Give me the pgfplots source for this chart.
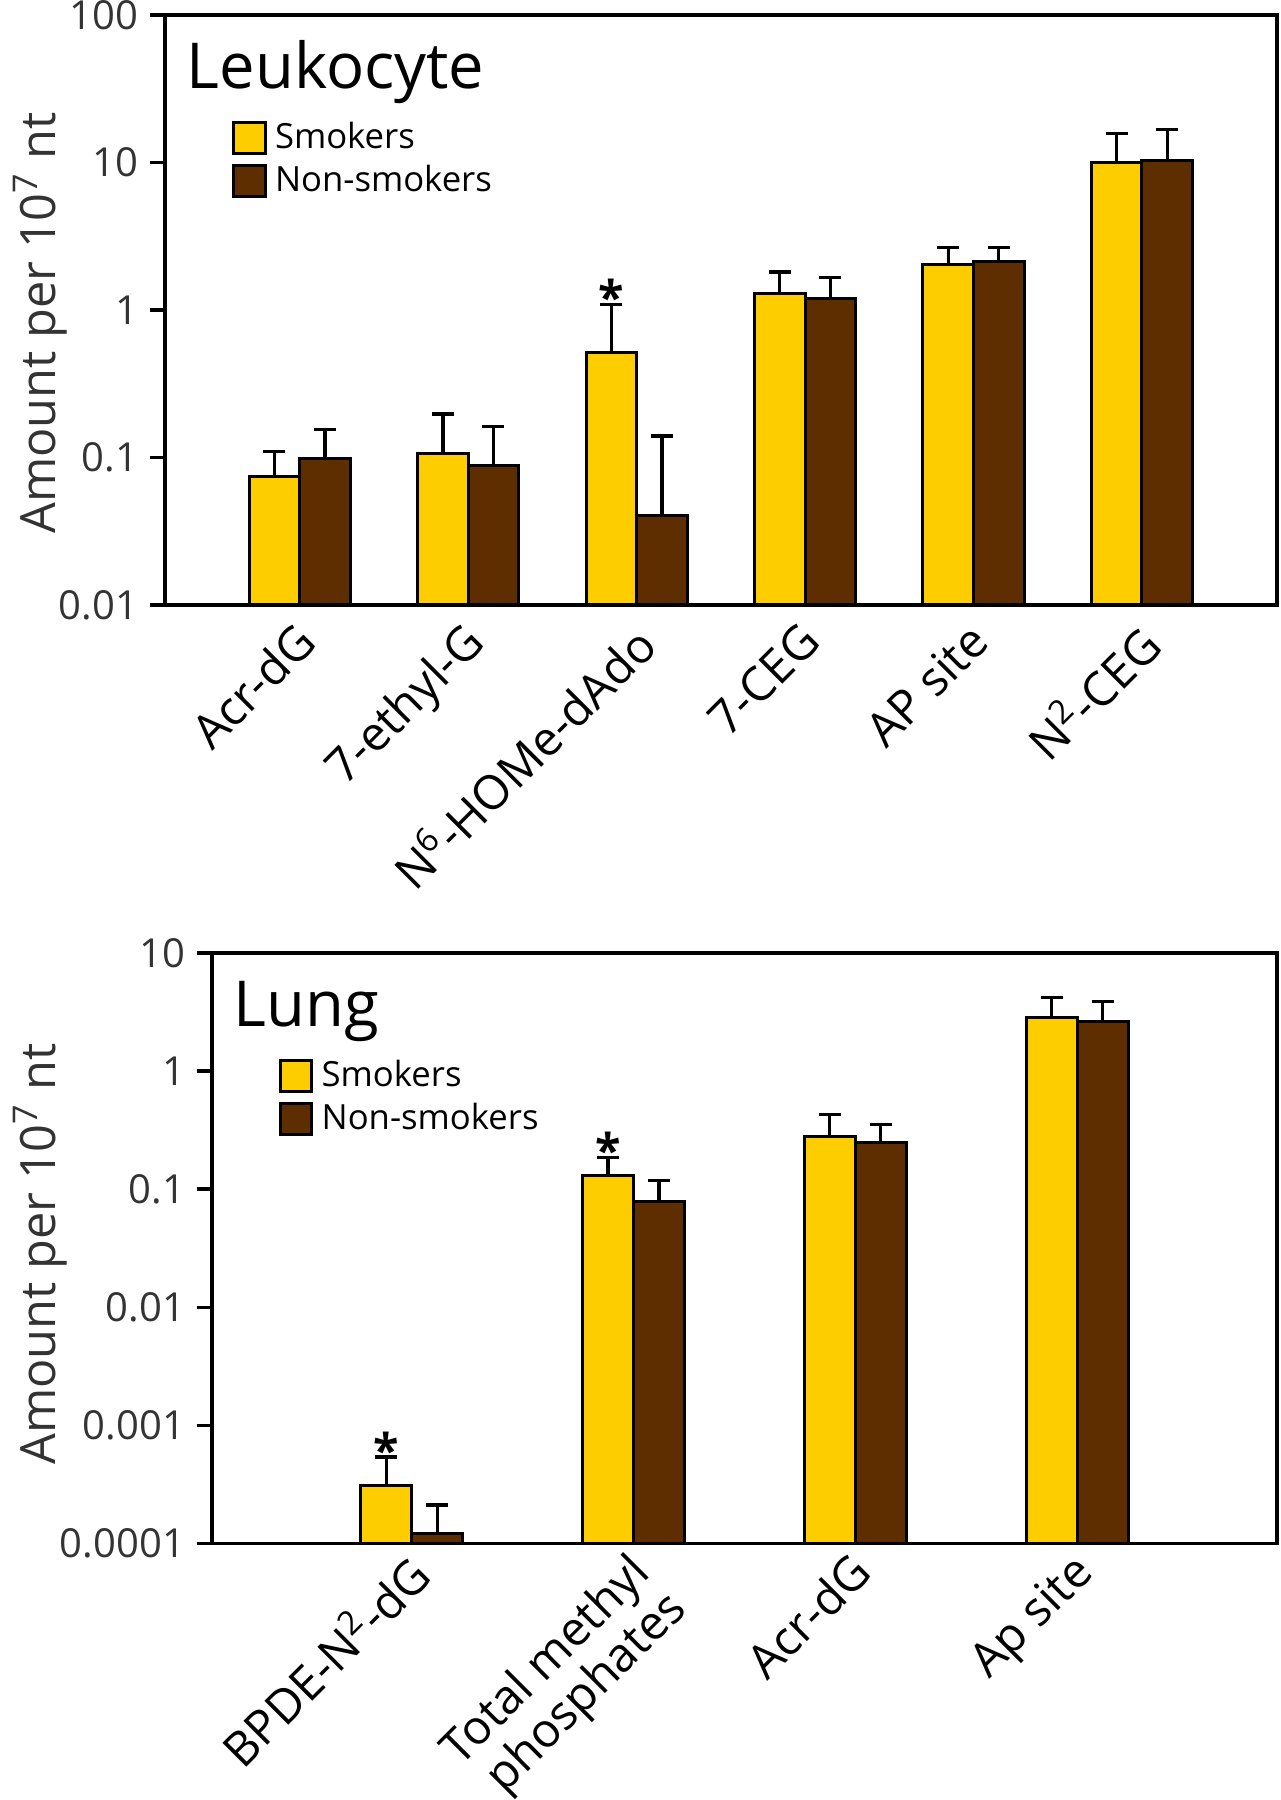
\documentclass[border=0pt]{standalone}
\usepackage{fontspec}
\setmainfont{Open Sans}
\usepackage{pgfplots}
\pgfplotsset{compat=1.18}
\usepackage{pgfplotstable}
\definecolor{smk}{HTML}{FDCD00}
\definecolor{nsm}{HTML}{5E2D00}

\pgfplotstableread{
x s se n ne
0 0.0738 0.0362 0.0985 0.0565
1 0.1066 0.0904 0.0887 0.0743
2 0.511 0.576 0.0403 0.0997
3 1.30 0.51 1.20 0.46
4 2.05 0.61 2.13 0.53
5 9.95 5.75 10.3 6.4
}\leuk

\pgfplotstableread{
x s se n ne
0 3.06e-4 2.31e-4 1.2e-4 0.91e-4
1 0.1294 0.0566 0.0790 0.039
2 0.281 0.145 0.250 0.102
3 2.86 1.34 2.62 1.26
}\lung

\begin{document}
\begin{tikzpicture}
\path[use as bounding box] (0,0) rectangle (384.3pt,540pt);

\begin{axis}[
  scale only axis, ymode=log, log origin=infty, ybar=0pt,
  axis line style={line width=1.1pt},
  tick align=outside, ytick pos=left,
  major tick length=4.5pt,
  y tick style={line width=1pt, black},
  x tick style={draw=none},
  yminorticks=false,
  yticklabel style={font=\fontsize{12}{14}\selectfont, text=black!80},
  xticklabel style={xshift=-2pt, font=\fontsize{14.2}{13}\selectfont, rotate=45, anchor=north east, align=right},
  xticklabel shift=-5pt,
  every axis y label/.style={at={(axis description cs:-0.1124,0.478)}, rotate=90, anchor=center, font=\fontsize{14.6}{17}\selectfont, text=black!80},
  clip=false,
  legend style={draw=none, fill=none, font=\fontsize{10.4}{12}\selectfont, anchor=north west, legend cell align=left, inner sep=0pt, row sep=1.5pt, nodes={inner sep=1pt}, at={(rel axis cs:0,1)}, xshift=20pt, yshift=-31pt},
  at={(49.5pt,358.5pt)}, anchor=south west,
  width=333.5pt, height=177pt,
  ymin=0.01, ymax=100, xmin=-0.8, xmax=5.8,
  bar width=0.30,
  ytick={0.01,0.1,1,10,100}, yticklabels={0.01,0.1,1,10,100},
  xtick={0,1,2,3,4,5},
  xticklabels={Acr-dG,7-ethyl-G,N\textsuperscript{6}-HOMe-dAdo,7-CEG,AP site,N\textsuperscript{2}-CEG},
  ylabel={Amount per 10\textsuperscript{7} nt},
]
\addplot[fill=smk, draw=black, line width=0.9pt,
    legend image code/.code={\draw[fill=smk, draw=black, line width=0.9pt] (0pt,-4.7pt) rectangle (9.4pt,4.7pt); \path (10.9pt,0pt);},
    error bars/y dir=plus, error bars/y explicit, error bars/error bar style={line width=1pt, black}, error bars/error mark options={rotate=90, black, line width=1pt, mark size=3.3pt}]
  table[x=x, y=s, y error=se] {\leuk};
\addlegendentry{Smokers}
\addplot[fill=nsm, draw=black, line width=0.9pt,
    legend image code/.code={\draw[fill=nsm, draw=black, line width=0.9pt] (0pt,-4.7pt) rectangle (9.4pt,4.7pt); \path (10.9pt,0pt);},
    error bars/y dir=plus, error bars/y explicit, error bars/error bar style={line width=1pt, black}, error bars/error mark options={rotate=90, black, line width=1pt, mark size=3.3pt}]
  table[x=x, y=n, y error=ne] {\leuk};
\addlegendentry{Non-smokers}
\node[anchor=base west, inner sep=0pt, font=\fontsize{19}{22}\selectfont] at (rel axis cs:0.019,0.8746) {Leukocyte};
\node[anchor=base, inner sep=0pt, yshift=-3pt, font=\bfseries\fontsize{14}{15}\selectfont] at (axis cs:1.85,1.087) {*};
\end{axis}

\begin{axis}[
  scale only axis, ymode=log, log origin=infty, ybar=0pt,
  axis line style={line width=1.1pt},
  tick align=outside, ytick pos=left,
  major tick length=4.5pt,
  y tick style={line width=1pt, black},
  x tick style={draw=none},
  yminorticks=false,
  yticklabel style={font=\fontsize{12}{14}\selectfont, text=black!80},
  xticklabel style={xshift=-2pt, font=\fontsize{14.2}{12.6}\selectfont, rotate=45, anchor=north east, align=right},
  xticklabel shift=-7.5pt,
  every axis y label/.style={at={(axis description cs:-0.1612,0.49)}, rotate=90, anchor=center, font=\fontsize{14.6}{17}\selectfont, text=black!80},
  clip=false,
  legend style={draw=none, fill=none, font=\fontsize{10.4}{12}\selectfont, anchor=north west, legend cell align=left, inner sep=0pt, row sep=1.5pt, nodes={inner sep=1pt}, at={(rel axis cs:0,1)}, xshift=20pt, yshift=-31pt},
  at={(63.5pt,77.0pt)}, anchor=south west,
  width=319.5pt, height=177.1pt,
  ymin=0.0001, ymax=10, xmin=-0.902, xmax=3.90,
  bar width=0.23,
  ytick={0.0001,0.001,0.01,0.1,1,10}, yticklabels={0.0001,0.001,0.01,0.1,1,10},
  xtick={0,1,2,3},
  xticklabels={BPDE-N\textsuperscript{2}-dG,{Total methyl\\phosphates},Acr-dG,Ap site},
  ylabel={Amount per 10\textsuperscript{7} nt},
]
\addplot[fill=smk, draw=black, line width=0.9pt,
    legend image code/.code={\draw[fill=smk, draw=black, line width=0.9pt] (0pt,-4.7pt) rectangle (9.4pt,4.7pt); \path (10.9pt,0pt);},
    error bars/y dir=plus, error bars/y explicit, error bars/error bar style={line width=1pt, black}, error bars/error mark options={rotate=90, black, line width=1pt, mark size=3.3pt}]
  table[x=x, y=s, y error=se] {\lung};
\addlegendentry{Smokers}
\addplot[fill=nsm, draw=black, line width=0.9pt,
    legend image code/.code={\draw[fill=nsm, draw=black, line width=0.9pt] (0pt,-4.7pt) rectangle (9.4pt,4.7pt); \path (10.9pt,0pt);},
    error bars/y dir=plus, error bars/y explicit, error bars/error bar style={line width=1pt, black}, error bars/error mark options={rotate=90, black, line width=1pt, mark size=3.3pt}]
  table[x=x, y=n, y error=ne] {\lung};
\addlegendentry{Non-smokers}
\node[anchor=base west, inner sep=0pt, font=\fontsize{19}{22}\selectfont] at (rel axis cs:0.020,0.8758) {Lung};
\node[anchor=base, inner sep=0pt, yshift=-3pt, font=\bfseries\fontsize{14}{15}\selectfont] at (axis cs:-0.115,5.37e-4) {*};
\node[anchor=base, inner sep=0pt, yshift=-3pt, font=\bfseries\fontsize{14}{15}\selectfont] at (axis cs:0.885,0.186) {*};
\end{axis}
\end{tikzpicture}
\end{document}
